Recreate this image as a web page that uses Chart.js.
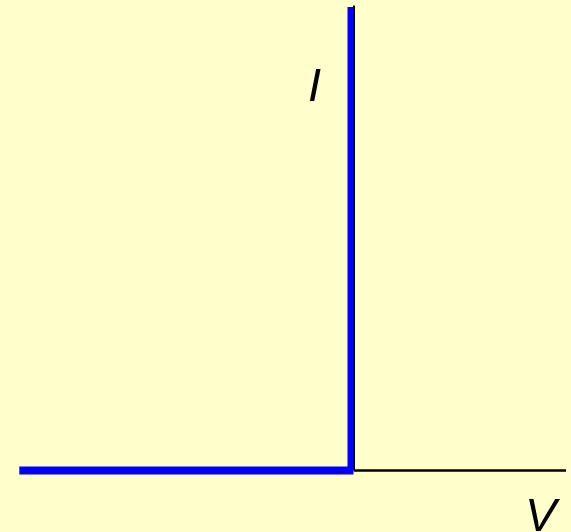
<!DOCTYPE html>
<html>
<head>
<meta charset="utf-8">
<script src="https://cdn.jsdelivr.net/npm/chart.js@4.4.1/dist/chart.umd.min.js"></script>
<style>
  html, body { margin: 0; padding: 0; background: #ffffcc; }
  #wrap { width: 571px; height: 532px; }
</style>
</head>
<body>
<div id="wrap"><canvas id="ivChart" width="571" height="532"></canvas></div>
<script>
// I-V curve, V in volts, I in arbitrary units
const flatV = [-3.347, -0.005];
const flatI = [0, 0];
const riseV = [-0.035, -0.035];
const riseI = [0, 4.635];

// axes through the origin
const vAxisV = [0, 0];
const vAxisI = [0, 4.65];
const hAxisV = [0, 2.12];
const hAxisI = [0, 0];

const axisLabels = ["I", "V"];

const toPoints = (xs, ys) => xs.map((x, i) => ({ x: x, y: ys[i] }));

const labelPlugin = {
  id: "axisLabels",
  afterDraw(chart) {
    const c = chart.ctx;
    c.save();
    c.fillStyle = "#000";
    c.font = "italic 47px 'Liberation Sans', Arial, sans-serif";
    c.textBaseline = "alphabetic";
    c.fillText(axisLabels[0], 308, 101);
    c.fillText(axisLabels[1], 525, 531);
    c.restore();
  }
};

const ctx = document.getElementById("ivChart").getContext("2d");

new Chart(ctx, {
  type: "scatter",
  data: {
    datasets: [
      { data: toPoints(vAxisV, vAxisI), showLine: true, borderColor: "#000", borderWidth: 2, pointRadius: 0, order: 3 },
      { data: toPoints(hAxisV, hAxisI), showLine: true, borderColor: "#000", borderWidth: 2.5, pointRadius: 0, order: 3 },
      { data: toPoints(flatV, flatI), showLine: true, borderColor: "#0000ff", borderWidth: 8, borderCapStyle: "butt", pointRadius: 0, order: 1 },
      { data: toPoints(riseV, riseI), showLine: true, borderColor: "#0000ff", borderWidth: 6, borderCapStyle: "butt", pointRadius: 0, order: 2 }
    ]
  },
  options: {
    responsive: false,
    animation: false,
    layout: { padding: 0 },
    plugins: {
      legend: { display: false },
      tooltip: { enabled: false }
    },
    scales: {
      x: { type: "linear", min: -3.54, max: 2.17, display: false },
      y: { type: "linear", min: -0.615, max: 4.705, display: false }
    }
  },
  plugins: [labelPlugin]
});
</script>
</body>
</html>
